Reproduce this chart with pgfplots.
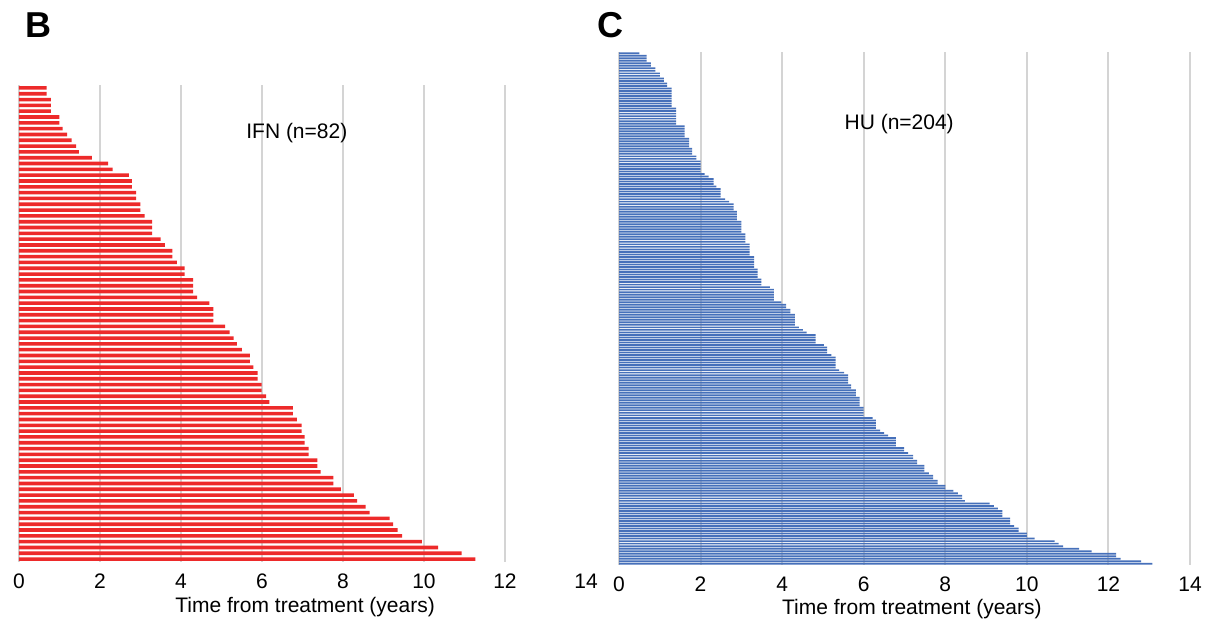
\documentclass[border=0pt]{standalone}
\usepackage{pgfplots}
\pgfplotsset{compat=1.18}
\usepackage{pgfplotstable}
\usepackage{fontspec}
\setmainfont{Liberation Sans}
\definecolor{ifnred}{RGB}{237,42,42}
\definecolor{hublue}{RGB}{70,112,186}
\definecolor{gridgray}{RGB}{212,212,212}

% IFN: time from treatment, sorted
\pgfplotstableread[row sep=\\]{
v\\
0.68\\ 0.68\\ 0.79\\ 0.79\\ 0.79\\ 1.0\\ 1.0\\ 1.08\\ 1.19\\ 1.3\\ 1.41\\ 1.48\\ 1.8\\ 2.2\\
2.31\\ 2.71\\ 2.79\\ 2.79\\ 2.89\\ 2.89\\ 3.0\\ 3.0\\ 3.1\\ 3.29\\ 3.29\\ 3.29\\ 3.5\\ 3.6\\
3.79\\ 3.79\\ 3.9\\ 4.09\\ 4.09\\ 4.3\\ 4.3\\ 4.3\\ 4.4\\ 4.7\\ 4.8\\ 4.8\\ 4.8\\ 5.09\\
5.2\\ 5.3\\ 5.38\\ 5.5\\ 5.7\\ 5.7\\ 5.79\\ 5.89\\ 5.89\\ 5.99\\ 5.99\\ 6.1\\ 6.18\\
6.76\\ 6.76\\ 6.86\\ 6.98\\ 6.98\\ 7.05\\ 7.05\\ 7.15\\ 7.15\\ 7.37\\ 7.37\\ 7.45\\ 7.76\\ 7.76\\
7.95\\ 8.27\\ 8.35\\ 8.56\\ 8.66\\ 9.15\\ 9.24\\ 9.35\\ 9.46\\ 9.95\\ 10.35\\ 10.93\\ 11.27\\
}\ifndata

% HU: time from treatment, sorted
\pgfplotstableread[row sep=\\]{
v\\
0.5\\ 0.68\\ 0.68\\ 0.68\\ 0.78\\ 0.78\\ 0.89\\ 0.89\\ 1.0\\ 1.0\\ 1.1\\ 1.1\\ 1.18\\ 1.18\\
1.29\\ 1.29\\ 1.29\\ 1.29\\ 1.29\\ 1.29\\ 1.29\\ 1.29\\
1.4\\ 1.4\\ 1.4\\ 1.4\\ 1.4\\ 1.4\\ 1.4\\
1.61\\ 1.61\\ 1.61\\ 1.61\\ 1.61\\ 1.72\\ 1.72\\ 1.72\\ 1.72\\ 1.79\\ 1.79\\ 1.79\\
1.9\\ 1.9\\ 2.0\\ 2.0\\ 2.0\\ 2.0\\ 2.0\\ 2.1\\ 2.2\\ 2.32\\ 2.32\\ 2.32\\ 2.39\\
2.49\\ 2.49\\ 2.49\\ 2.49\\ 2.6\\ 2.7\\ 2.81\\ 2.81\\ 2.81\\ 2.89\\ 2.89\\ 2.89\\ 2.89\\
3.0\\ 3.0\\ 3.0\\ 3.0\\ 3.0\\ 3.1\\ 3.1\\ 3.1\\ 3.1\\ 3.2\\ 3.2\\ 3.2\\ 3.2\\ 3.2\\
3.31\\ 3.31\\ 3.31\\ 3.31\\ 3.31\\ 3.4\\ 3.4\\ 3.4\\ 3.4\\ 3.49\\ 3.49\\ 3.49\\ 3.7\\
3.8\\ 3.8\\ 3.8\\ 3.8\\ 3.8\\ 3.98\\ 4.1\\ 4.1\\ 4.2\\ 4.2\\ 4.31\\ 4.31\\ 4.31\\ 4.31\\ 4.31\\
4.41\\ 4.51\\ 4.6\\ 4.82\\ 4.82\\ 4.82\\ 4.82\\ 5.02\\ 5.1\\ 5.1\\ 5.1\\ 5.21\\
5.31\\ 5.31\\ 5.31\\ 5.31\\ 5.31\\ 5.4\\ 5.52\\ 5.62\\ 5.62\\ 5.62\\ 5.62\\ 5.69\\ 5.69\\
5.81\\ 5.81\\ 5.81\\ 5.9\\ 5.9\\ 5.9\\ 5.9\\ 6.0\\ 6.0\\ 6.0\\ 6.0\\ 6.22\\
6.3\\ 6.3\\ 6.3\\ 6.3\\ 6.4\\ 6.5\\ 6.6\\ 6.79\\ 6.79\\ 6.79\\ 6.79\\ 6.99\\ 6.99\\ 7.09\\ 7.21\\
7.21\\ 7.31\\ 7.31\\ 7.49\\ 7.49\\ 7.49\\ 7.6\\ 7.7\\ 7.7\\ 7.81\\ 7.81\\ 8.0\\ 8.0\\
8.2\\ 8.31\\ 8.41\\ 8.41\\ 8.48\\ 9.09\\ 9.19\\ 9.29\\ 9.4\\ 9.4\\ 9.4\\ 9.59\\ 9.59\\ 9.59\\
9.69\\ 9.8\\ 9.8\\ 10.0\\ 10.0\\ 10.19\\ 10.68\\ 10.78\\ 10.89\\ 11.28\\ 11.59\\
12.19\\ 12.19\\ 12.3\\ 12.8\\ 13.08\\
}\hudata

\pgfplotsset{
  panel/.style={
    scale only axis, anchor=south west, clip=false,
    xmin=0, xmax=14, y dir=reverse,
    ytick=\empty, axis line style={draw=none}, major tick length=0pt,
    xmajorgrids, major grid style={draw=gridgray, line width=1pt},
    tick label style={font=\fontsize{10.5}{12}\selectfont},
    xticklabel style={yshift=-2.3pt},
    /pgf/number format/assume math mode=true,
    xlabel={Time from treatment (years)},
    label style={font=\fontsize{10.5}{12}\selectfont},
  },
}

\begin{document}
\begin{tikzpicture}
\useasboundingbox (0,0) rectangle (608pt,-310pt);

\node[font=\bfseries\fontsize{18}{20}\selectfont] at (19pt,-12.5pt) {B};
\node[font=\bfseries\fontsize{18}{20}\selectfont] at (305pt,-12.5pt) {C};

\begin{axis}[panel,
  at={(9.5pt,-281pt)}, width=283.5pt, height=238.5pt,
  ymin=0.5, ymax=82.5,
  xtick={0,2,...,12}, extra x ticks={14}, extra x tick style={grid=none},
  xlabel style={at={(axis description cs:0.5,0)}, anchor=center, yshift=-22.3pt, xshift=1.3pt},
]
\addplot[xbar, bar width=0.62, fill=ifnred, draw=none] table[x=v, y index=0, y expr=\coordindex+1] {\ifndata};
\node[font=\fontsize{10.5}{12}\selectfont] at (axis cs:6.86,8.75) {IFN (n=82)};
\end{axis}

\begin{axis}[panel,
  at={(309.5pt,-282.5pt)}, width=285.5pt, height=256.5pt,
  ymin=0.5, ymax=204.5,
  xtick={0,2,...,14},
  xlabel style={at={(axis description cs:0.5,0)}, anchor=center, yshift=-22pt, xshift=3.7pt},
]
\addplot[xbar, bar width=0.68, fill=hublue, draw=none] table[x=v, y index=0, y expr=\coordindex+1] {\hudata};
\node[font=\fontsize{10.5}{12}\selectfont] at (axis cs:6.87,29) {HU (n=204)};
\end{axis}
\end{tikzpicture}
\end{document}
